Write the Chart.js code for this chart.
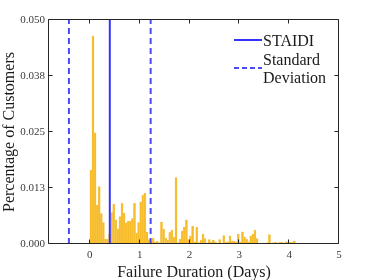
<!DOCTYPE html>
<html>
<head>
<meta charset="utf-8">
<script src="https://cdn.jsdelivr.net/npm/chart.js@4.4.0/dist/chart.umd.min.js"></script>
<style>
  html, body { margin: 0; padding: 0; background: #fff; }
  #wrap { width: 374px; height: 280px; position: relative; }
</style>
</head>
<body>
<div id="wrap"><canvas id="durationChart"></canvas></div>
<script>
// share of customers per one-hour bin, starting at 0 days
const hourlyShare = [
    0.0165, 0.0464, 0.0248, 0.0087, 0.0128, 0.0068, 0.0048, 0.0011, 0.0011, 0.0022,
    0.0070, 0.0089, 0.0054, 0.0034, 0.0061, 0.0091, 0.0069, 0.0047, 0.0051, 0.0051,
    0.0057, 0.0091, 0.0024, 0.0048, 0.0094, 0.0109, 0.0113, 0.0027, 0.0010, 0.0005,
    0.0013, 0.0005, 0.0006, 0.0003, 0.0049, 0.0033, 0.0013, 0.0009, 0.0026, 0.0031,
    0.0015, 0.0148, 0.0003, 0.0011, 0.0029, 0.0038, 0.0054, 0.0010, 0.0018, 0.0040,
    0.0005, 0.0037, 0.0003, 0.0008, 0.0022, 0.0012, 0.0002, 0.0010, 0.0005, 0.0009,
    0.0004, 0.0001, 0.0010, 0.0001, 0.0019, 0.0004, 0.0005, 0.0018, 0.0007, 0.0006,
    0.0005, 0.0022, 0.0005, 0.0027, 0.0016, 0.0011, 0.0005, 0.0018, 0.0022, 0.0031,
    0.0012, 0.0002, 0.0002, 0.0002, 0.0002, 0.0003, 0.0021, 0.0002, 0.0003, 0.0004,
    0.0000, 0.0004, 0.0004, 0.0000, 0.0005, 0.0005, 0.0004, 0.0004, 0.0007
];
const binWidthDays = 1 / 24;

const staidiDays = 0.40;
const stdDevDays = 0.82;

const xTickValues = [0, 1, 2, 3, 4, 5];
const yTickValues = [0, 0.0125, 0.025, 0.0375, 0.05];
const yTickLabels = ['0.000', '0.013', '0.025', '0.038', '0.050'];

const xTitle = 'Failure Duration (Days)';
const yTitle = 'Percentage of Customers';
const legendLabels = [['STAIDI'], ['Standard', 'Deviation']];

const serif = '"Liberation Serif", "Times New Roman", serif';
const axisColor = '#262626';
const meanColor = '#3434F8';
const sdColor = '#4a4af6';

const histData = hourlyShare.map((v, i) => ({ x: (i + 0.5) * binWidthDays, y: v }));

// box, inward ticks, axis titles and legend, MATLAB style
const framePlugin = {
    id: 'frame',
    afterDraw(chart) {
        const ctx = chart.ctx;
        const a = chart.chartArea;
        const xs = chart.scales.x;
        const ys = chart.scales.y;
        const L = Math.round(a.left) - 0.5, R = Math.round(a.right) - 0.5;
        const T = Math.round(a.top) - 0.5, B = Math.round(a.bottom) - 0.5;

        ctx.save();
        ctx.strokeStyle = axisColor;
        ctx.lineWidth = 1;
        ctx.beginPath();
        ctx.rect(L, T, R - L, B - T);
        ctx.stroke();

        ctx.beginPath();
        yTickValues.forEach(v => {
            const y = Math.round(ys.getPixelForValue(v)) - 0.5;
            ctx.moveTo(L, y); ctx.lineTo(L + 4, y);
            ctx.moveTo(R, y); ctx.lineTo(R - 4, y);
        });
        xTickValues.forEach(v => {
            const x = Math.round(xs.getPixelForValue(v)) - 0.5;
            ctx.moveTo(x, B); ctx.lineTo(x, B - 4);
            ctx.moveTo(x, T); ctx.lineTo(x, T + 4);
        });
        ctx.stroke();

        // axis titles
        ctx.fillStyle = '#1a1a1a';
        ctx.font = '16px ' + serif;
        ctx.textAlign = 'center';
        ctx.textBaseline = 'alphabetic';
        ctx.fillText(xTitle, (a.left + a.right) / 2, 277);
        ctx.save();
        ctx.translate(14, (a.top + a.bottom) / 2);
        ctx.rotate(-Math.PI / 2);
        ctx.fillText(yTitle, 0, 0);
        ctx.restore();

        // legend
        ctx.textAlign = 'left';
        ctx.lineWidth = 2;
        ctx.strokeStyle = meanColor;
        ctx.beginPath();
        ctx.moveTo(234, 40); ctx.lineTo(262, 40);
        ctx.stroke();
        ctx.strokeStyle = sdColor;
        ctx.setLineDash([5, 3]);
        ctx.beginPath();
        ctx.moveTo(234, 68); ctx.lineTo(262, 68);
        ctx.stroke();
        ctx.setLineDash([]);
        ctx.fillText(legendLabels[0][0], 263, 46);
        ctx.fillText(legendLabels[1][0], 263, 65);
        ctx.fillText(legendLabels[1][1], 263, 83);
        ctx.restore();
    }
};

new Chart(document.getElementById('durationChart'), {
    type: 'bar',
    data: {
        datasets: [
            {
                type: 'line',
                label: 'STAIDI',
                data: [{ x: staidiDays, y: 0 }, { x: staidiDays, y: 0.05 }],
                borderColor: meanColor,
                borderWidth: 2,
                pointRadius: 0,
                order: 0
            },
            {
                type: 'line',
                label: 'Standard Deviation',
                data: [{ x: staidiDays - stdDevDays, y: 0 }, { x: staidiDays - stdDevDays, y: 0.05 }],
                borderColor: sdColor,
                borderWidth: 2,
                borderDash: [6, 4],
                pointRadius: 0,
                order: 0
            },
            {
                type: 'line',
                label: 'Standard Deviation',
                data: [{ x: staidiDays + stdDevDays, y: 0 }, { x: staidiDays + stdDevDays, y: 0.05 }],
                borderColor: sdColor,
                borderWidth: 2,
                borderDash: [6, 4],
                pointRadius: 0,
                order: 0
            },
            {
                label: 'Failures',
                data: histData,
                backgroundColor: '#F7BC2C',
                borderColor: '#FAD06A',
                borderWidth: 0.4,
                barPercentage: 1,
                categoryPercentage: 1,
                order: 1
            }
        ]
    },
    options: {
        responsive: true,
        maintainAspectRatio: false,
        animation: false,
        layout: { padding: { top: 20, right: 35, left: 0, bottom: 0 } },
        plugins: {
            legend: { display: false },
            tooltip: { enabled: false }
        },
        scales: {
            x: {
                type: 'linear',
                min: -0.82,
                max: 5,
                offset: false,
                grid: { display: false, drawTicks: false },
                border: { display: false },
                afterBuildTicks: scale => { scale.ticks = xTickValues.map(v => ({ value: v })); },
                afterFit: scale => { scale.height = 36; },
                ticks: {
                    padding: 5,
                    maxRotation: 0,
                    color: '#3a3a3a',
                    font: { family: serif, size: 11 },
                    callback: v => String(v)
                }
            },
            y: {
                min: 0,
                max: 0.05,
                grid: { display: false, drawTicks: false },
                border: { display: false },
                afterBuildTicks: scale => { scale.ticks = yTickValues.map(v => ({ value: v })); },
                afterFit: scale => { scale.width = 49; },
                ticks: {
                    padding: 4,
                    color: '#3a3a3a',
                    font: { family: serif, size: 11 },
                    callback: (v, i) => yTickLabels[i]
                }
            }
        }
    },
    plugins: [framePlugin]
});
</script>
</body>
</html>
